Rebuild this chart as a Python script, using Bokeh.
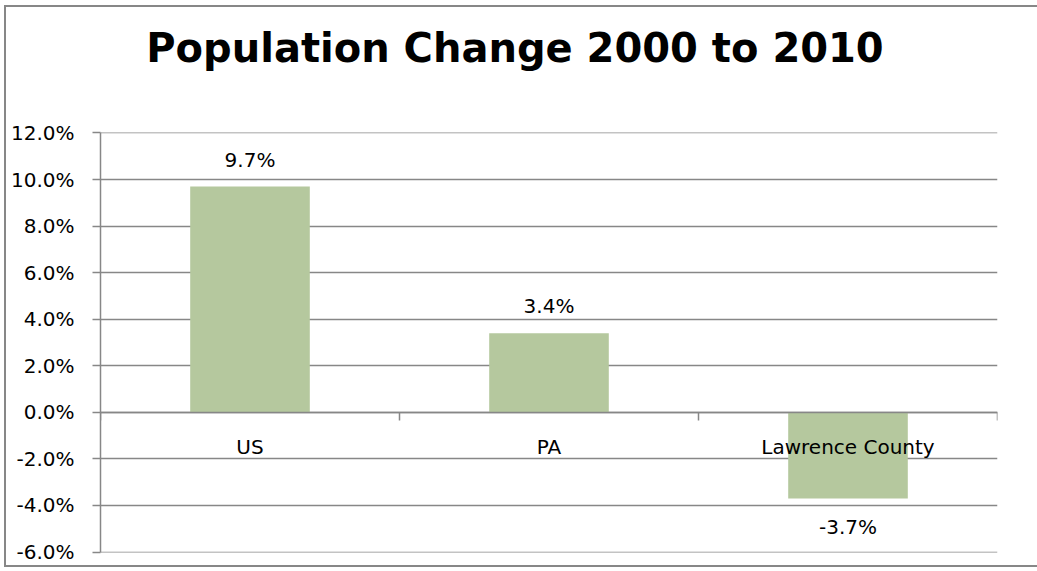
from bokeh.plotting import figure
from bokeh.models import (FixedTicker, NumeralTickFormatter,
                          ColumnDataSource, Range1d, Div)
from bokeh.layouts import column
from bokeh.core.properties import value
from bokeh.embed import file_html
from bokeh.resources import INLINE

categories = ["US", "PA", "Lawrence County"]
changes = [0.097, 0.034, -0.037]
y_ticks = [-0.06, -0.04, -0.02, 0.0, 0.02, 0.04, 0.06, 0.08, 0.10, 0.12]
title_text = "Population Change 2000 to 2010"

FONT = "DejaVu Sans"
GRID = "#878787"
BAR = "#b5c89e"

centers = [i + 0.5 for i in range(len(categories))]
labels = [f"{v * 100:.1f}%" for v in changes]
offsets = [-27 if v >= 0 else 29 for v in changes]
src = ColumnDataSource(dict(x=centers, top=changes, label=labels, off=offsets))

ML, MT, BW = 4, 5, 2
TOP = MT + BW          # content top
TITLE_H = 100
W = 1031

title = Div(text=(f'<div style="width:1018px;height:{TITLE_H}px;'
                  f'text-align:center;font-family:\'{FONT}\';font-weight:bold;'
                  f'font-size:40px;line-height:48px;padding-top:17px;'
                  f'box-sizing:border-box;color:black;">{title_text}</div>'),
            width=W, height=TITLE_H, margin=0)

p = figure(frame_width=897, frame_height=420, output_backend="svg", toolbar_location=None,
           x_range=Range1d(0, len(categories)),
           y_range=Range1d(y_ticks[0] - 0.0002, y_ticks[-1] + 0.0002),
           min_border_left=100 - ML - BW, min_border_right=W - 897 - (100 - ML - BW),
           min_border_top=132 - TOP - TITLE_H, min_border_bottom=13, margin=0)
p.outline_line_color = None
p.background_fill_color = "white"
p.border_fill_color = "white"

p.vbar(x="x", top="top", bottom=0, width=0.4, source=src,
       fill_color=BAR, line_color=None)

p.text(x="x", y="top", text="label", y_offset="off", source=src,
       text_align="center", text_baseline="middle",
       text_font=value(FONT), text_font_size="20px", text_color="black")

# y axis
ya = p.yaxis[0]
ya.ticker = FixedTicker(ticks=y_ticks)
ya.formatter = NumeralTickFormatter(format="0.0%")
ya.axis_line_color = GRID
ya.axis_line_width = 1.5
ya.major_tick_line_color = GRID
ya.major_tick_line_width = 1.5
ya.major_tick_out = 8
ya.major_tick_in = 0
ya.minor_tick_line_color = None
ya.major_label_standoff = 18
ya.major_label_text_font = FONT
ya.major_label_text_font_size = "20px"
ya.major_label_text_color = "black"

# x axis at zero
xa = p.xaxis[0]
xa.fixed_location = 0
xa.ticker = FixedTicker(ticks=centers, minor_ticks=list(range(len(categories) + 1)))
xa.major_label_overrides = {c: n for c, n in zip(centers, categories)}
xa.axis_line_color = GRID
xa.axis_line_width = 1.5
xa.major_tick_line_color = None
xa.major_tick_out = 0
xa.major_tick_in = 0
xa.minor_tick_line_color = GRID
xa.minor_tick_line_width = 1.5
xa.minor_tick_out = 8
xa.minor_tick_in = 0
xa.major_label_standoff = 15
xa.major_label_text_font = FONT
xa.major_label_text_font_size = "20px"
xa.major_label_text_color = "black"

p.xgrid.grid_line_color = None
p.ygrid.ticker = FixedTicker(ticks=y_ticks)
p.ygrid.grid_line_color = GRID
p.ygrid.grid_line_width = 1.5

layout = column(title, p, spacing=0, margin=0,
                styles={"border-left": f"{BW}px solid {GRID}",
                        "border-top": f"{BW}px solid {GRID}",
                        "border-bottom": f"{BW}px solid {GRID}",
                        "border-right": "0px none",
                        "outline": "none",
                        "margin-left": f"{ML}px", "margin-top": f"{MT}px",
                        "box-sizing": "content-box", "background": "white"})

open("out.html", "w").write(file_html(layout, INLINE))
